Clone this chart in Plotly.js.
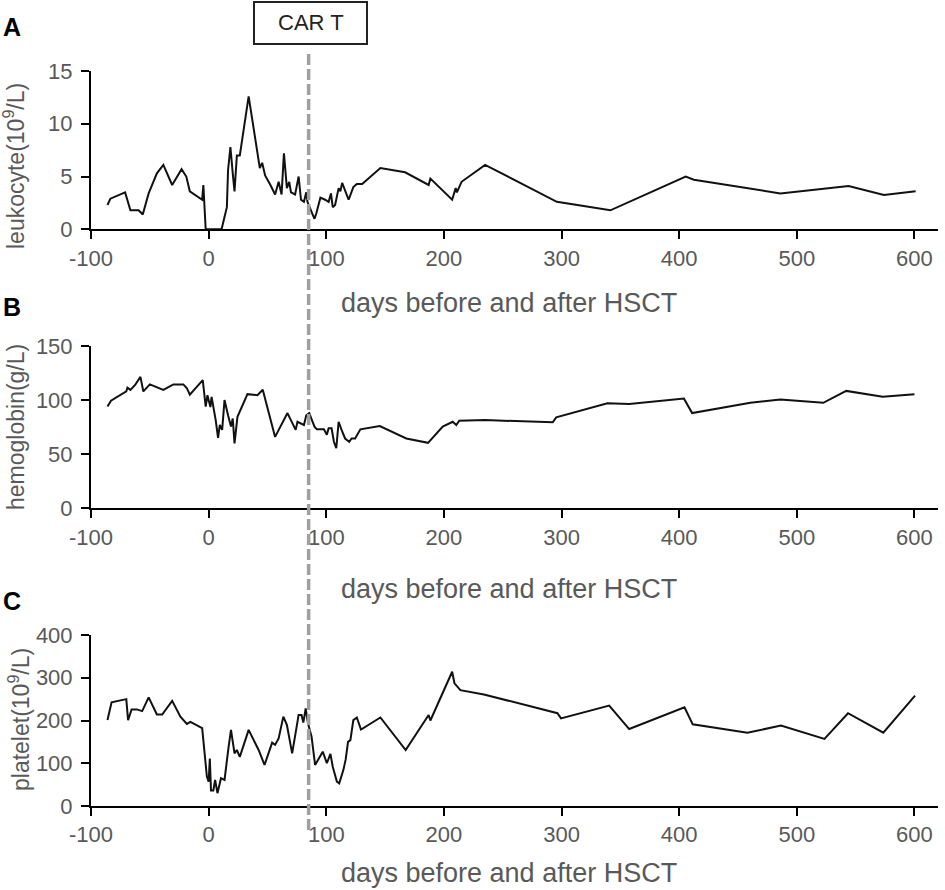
<!DOCTYPE html>
<html>
<head>
<meta charset="utf-8">
<script src="https://cdn.plot.ly/plotly-3.0.1.min.js"></script>
<style>html,body{margin:0;padding:0;background:#fff;}#chart{width:945px;height:890px;}</style>
</head>
<body>
<div id="chart"></div>
<script>
// ---- data (days relative to HSCT) ----
const dayA = [-86, -83.5, -71, -66.5, -59.5, -56, -51, -44, -38.5, -31, -23, -19, -16, -5.5, -4.5, -2.5, 11, 15.5, 16.5, 18.5, 20.5, 22, 24, 26.5, 34, 41, 43.5, 45.5, 48, 52.5, 56.5, 59.5, 62, 64, 66.5, 68.5, 70, 73.5, 76.5, 78.5, 81, 83, 84, 88, 90, 91.5, 95, 99, 102, 104, 105.5, 107.5, 110.5, 112, 113.5, 119, 123, 126, 130.5, 146, 167, 187, 188.5, 207, 210, 211, 215, 235, 296, 341.5, 405.5, 412.5, 486, 544, 574, 601];
const leukocyte = [2.3, 2.9, 3.5, 1.8, 1.8, 1.4, 3.4, 5.3, 6.1, 4.2, 5.7, 5.0, 3.6, 2.8, 4.2, 0, 0, 2.1, 5.6, 7.8, 5.3, 3.6, 7.0, 7.0, 12.6, 7.8, 5.8, 6.3, 5.1, 4.2, 3.3, 4.5, 3.3, 7.2, 3.9, 4.5, 3.5, 3.3, 5.0, 2.8, 2.6, 3.5, 2.6, 1.5, 1.0, 1.5, 3.0, 2.8, 2.6, 3.4, 2.1, 2.3, 3.9, 3.6, 4.4, 2.8, 4.0, 4.3, 4.3, 5.8, 5.4, 4.2, 4.8, 2.8, 3.9, 3.5, 4.5, 6.1, 2.6, 1.8, 5.0, 4.7, 3.4, 4.1, 3.25, 3.6];

const dayB = [-86, -83, -70, -69, -66.5, -62.5, -58, -55.5, -50, -38.5, -30, -21.5, -18.5, -16, -5, -2.5, -1, 1.5, 2.5, 6, 8, 9.5, 11.5, 13.5, 16.5, 17.5, 19, 20.5, 22, 24.5, 33, 41.5, 46, 56.5, 67, 74, 75.5, 81, 83, 85.5, 88, 90, 92, 98, 100.5, 102, 104.5, 106.5, 108.5, 110.5, 113.5, 116, 119.5, 121.5, 124.5, 129, 145.5, 168, 186.5, 199, 207.5, 210.5, 213, 235, 292.5, 295.5, 339, 357.5, 404, 411, 460.5, 486, 522.5, 542, 573, 600];
const hemoglobin = [94, 99.5, 108, 111.5, 109.5, 114, 121.5, 108, 114.5, 109.5, 114.5, 114.5, 111, 105, 118.5, 94, 104.5, 93.5, 103, 81.5, 65, 77, 72.5, 100, 86, 81.5, 75.5, 83, 60, 84.5, 105.5, 104.5, 109.5, 66, 88, 72.5, 80, 77, 86, 88, 81.5, 75.5, 73, 73, 68, 74, 74, 61.5, 55.5, 80, 71, 64.5, 61.5, 64.5, 64.5, 73, 76, 64.5, 60.5, 75.5, 80, 77, 81, 81.5, 79.5, 84, 97, 96.5, 101.5, 88, 97.5, 100.5, 97.5, 108.5, 103, 105.5];

const dayC = [-86, -82.5, -70, -68.5, -65.5, -61, -56.5, -51, -44, -39.5, -31, -24, -18.5, -15.5, -5.5, -4, -1.5, 0, 1, 2, 4, 5.5, 7.5, 10.5, 13.5, 17, 19, 22, 24, 26.5, 34, 42.5, 47.5, 54, 56.5, 59.5, 63.5, 66.5, 71, 76.5, 79, 80.5, 82.5, 84.5, 87.5, 90.5, 97, 100.5, 103.5, 105.5, 109, 111, 114.5, 116.5, 118.5, 120.5, 123, 126, 129.5, 146, 167.5, 187, 188.5, 207, 209, 214, 221, 234, 296.5, 299.5, 340.5, 357.5, 404.5, 411.5, 458, 486.5, 523.5, 543.5, 573.5, 600.5];
const platelet = [201, 242.5, 250, 201, 226, 226, 222, 254, 214, 214, 246, 209, 192, 197, 182, 139, 69, 57, 111, 36, 36, 61, 30, 65, 61, 139, 178, 123, 131, 115, 178, 131, 96, 148, 143, 158, 209, 190, 123, 213, 213, 195, 228, 193, 162, 96, 127, 100, 122, 92, 57, 53, 84, 109, 150, 154, 201, 207, 179, 207, 131, 213, 200, 314, 287, 271, 267, 261, 217, 205, 235, 180, 231, 191, 171.5, 188, 157, 217, 171.5, 258];

const carTDay = 85;
const xTicks = [-100, 0, 100, 200, 300, 400, 500, 600];
const xTickLabels = ["-100", "0", "100", "200", "300", "400", "500", "600"];
const ticksA = [0, 5, 10, 15];
const ticksB = [0, 50, 100, 150];
const ticksC = [0, 100, 200, 300, 400];
const xTitle = "days before and after HSCT";
const yTitles = ["leukocyte(10<sup>9</sup>/L)", "hemoglobin(g/L)", "platelet(10<sup>9</sup>/L)"];
const panelLetters = ["A", "B", "C"];
const markerLabel = "CAR T";

// ---- layout helpers ----
const W = 945, H = 890;
const px = v => v / W;
const py = v => 1 - v / H;
const FONT = "Liberation Sans, Arial, sans-serif";
const GREY = "#595959";

function xa(anchor) {
  return {
    anchor: anchor, domain: [px(91), px(938)], range: [-100, 620],
    tickvals: xTicks, ticktext: xTickLabels, ticks: "outside", ticklen: 8, tickwidth: 2, tickcolor: "#000",
    showline: true, linecolor: "#000", linewidth: 2, showgrid: false, zeroline: false,
    tickfont: {family: FONT, size: 22, color: GREY}, fixedrange: true
  };
}
function ya(anchor, dom, range, tv) {
  return {
    anchor: anchor, domain: dom, range: range, tickvals: tv,
    ticks: "outside", ticklen: 8, tickwidth: 2, tickcolor: "#000",
    showline: true, linecolor: "#000", linewidth: 2, showgrid: false, zeroline: false,
    tickfont: {family: FONT, size: 22, color: GREY}, ticklabelstandoff: 4, fixedrange: true
  };
}

const lineStyle = {color: "#111", width: 2};
const traces = [
  {x: dayA, y: leukocyte, xaxis: "x", yaxis: "y", type: "scatter", mode: "lines", line: lineStyle, hoverinfo: "x+y"},
  {x: dayB, y: hemoglobin, xaxis: "x2", yaxis: "y2", type: "scatter", mode: "lines", line: lineStyle, hoverinfo: "x+y"},
  {x: dayC, y: platelet, xaxis: "x3", yaxis: "y3", type: "scatter", mode: "lines", line: lineStyle, hoverinfo: "x+y"}
];

const xTitleY = [303, 589, 873];
const yTitlePos = [[14, 166], [16, 427], [19, 720]];
const letterY = [27, 307, 601];

const annotations = [];
for (let i = 0; i < 3; i++) {
  annotations.push({xref: "paper", yref: "paper", x: px(509), y: py(xTitleY[i]), text: xTitle, showarrow: false,
    xanchor: "center", yanchor: "middle", font: {family: FONT, size: 27, color: GREY}});
  annotations.push({xref: "paper", yref: "paper", x: px(yTitlePos[i][0]), y: py(yTitlePos[i][1]), text: yTitles[i], showarrow: false,
    textangle: -90, xanchor: "center", yanchor: "middle", font: {family: FONT, size: 23, color: GREY}});
  annotations.push({xref: "paper", yref: "paper", x: px(12), y: py(letterY[i]), text: "<b>" + panelLetters[i] + "</b>", showarrow: false,
    xanchor: "center", yanchor: "middle", font: {family: FONT, size: 25, color: "#000"}});
}
annotations.push({xref: "paper", yref: "paper", x: px(310.5), y: py(23), text: markerLabel, showarrow: false,
  xanchor: "center", yanchor: "middle", font: {family: FONT, size: 22, color: "#222"}});

const shapes = [
  {type: "rect", xref: "paper", yref: "paper", x0: px(254), x1: px(367), y0: py(44), y1: py(2),
   line: {color: "#222", width: 2}, fillcolor: "rgba(0,0,0,0)"},
  {type: "line", xref: "x", yref: "paper", x0: carTDay, x1: carTDay, y0: py(54), y1: py(830),
   line: {color: "#a0a0a0", width: 3.5, dash: "11px,4px"}, layer: "above"}
];

const layout = {
  width: W, height: H, margin: {l: 0, r: 0, t: 0, b: 0},
  paper_bgcolor: "#fff", plot_bgcolor: "#fff", showlegend: false,
  xaxis: xa("y"), xaxis2: xa("y2"), xaxis3: xa("y3"),
  yaxis: ya("x", [py(229.3), py(71)], [0, 15], ticksA),
  yaxis2: ya("x2", [py(508.3), py(346)], [0, 150], ticksB),
  yaxis3: ya("x3", [py(806), py(635)], [0, 400], ticksC),
  annotations: annotations, shapes: shapes
};

Plotly.newPlot("chart", traces, layout, {displayModeBar: false, staticPlot: true});
</script>
</body>
</html>
